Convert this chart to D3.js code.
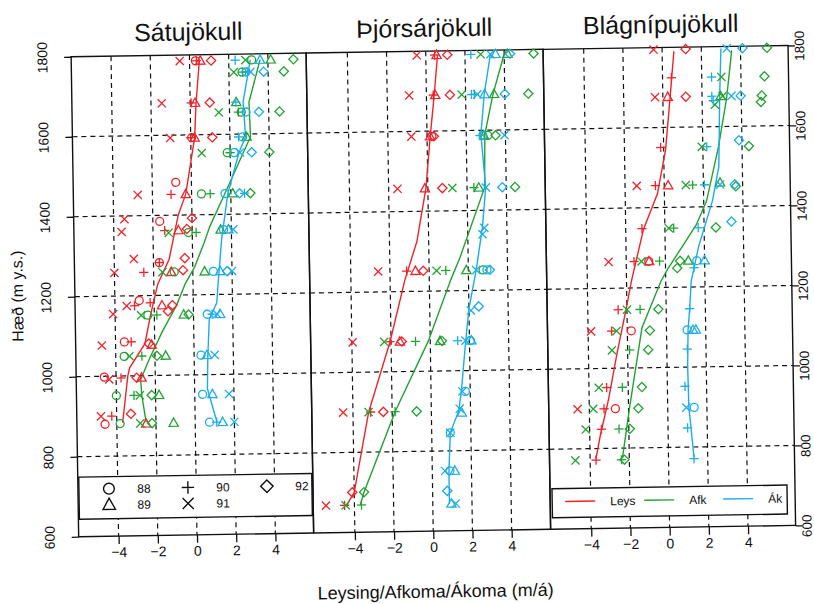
<!DOCTYPE html>
<html>
<head>
<meta charset="utf-8">
<script src="https://cdn.jsdelivr.net/npm/d3@7"></script>
<style>
body { margin: 0; background: #fff; }
svg { display: block; }
text { font-family: "Liberation Sans", Arial, Helvetica, sans-serif; fill: #111; }
</style>
</head>
<body>
<svg id="chart" width="814" height="604"></svg>
<script>
// ---- data: [year, elevation (m), value (m/a)] ----
var satuLeys = [
	[91,1785,-0.5],[88,1785,0.3],[90,1785,0.35],[89,1785,0.55],[92,1785,1.1],
	[91,1680,-1.45],[90,1680,0.05],[89,1680,0.25],[92,1680,1.0],
	[91,1593,-1.05],[90,1593,0.0],[88,1593,0.05],[89,1593,0.2],[92,1593,1.1],
	[88,1482,-0.8],
	[91,1452,-2.75],[90,1452,-1.05],[89,1452,-0.3],
	[91,1392,-3.45],[88,1385,-1.65],[92,1392,0.0],
	[91,1360,-3.6],[90,1362,-1.4],[89,1362,-0.7],[92,1365,-0.27],
	[91,1292,-3.0],[92,1292,-0.4],[88,1282,-1.7],[90,1282,-1.7],
	[91,1258,-4.0],[90,1258,-2.5],[89,1258,-1.1],[92,1262,-0.5],
	[88,1188,-2.76],[90,1182,-2.2],[91,1175,-3.4],[90,1175,-3.0],[89,1175,-1.6],[92,1175,-1.07],[92,1160,-1.3],
	[91,1155,-4.1],
	[88,1085,-3.55],[90,1085,-3.2],[91,1077,-4.7],[92,1080,-2.3],[89,1077,-2.16],
	[88,998,-4.6],[91,992,-4.35],[90,995,-3.75],[92,995,-2.95],[89,995,-2.7],
	[91,900,-4.8],[90,900,-4.25],[88,880,-4.6],[92,905,-3.27],[89,880,-2.5]
];
var satuAfk = [
	[91,1785,2.85],[88,1785,3.17],[89,1785,4.14],[92,1785,5.3],
	[91,1755,2.25],[88,1755,2.67],[90,1755,2.7],[92,1755,4.8],
	[89,1680,2.35],
	[91,1655,1.45],[90,1655,2.45],[88,1655,2.6],[92,1655,4.55],
	[89,1593,2.85],
	[91,1554,0.55],[88,1554,1.85],[90,1554,2.0],[92,1554,4.0],
	[88,1452,0.5],[90,1452,0.95],[89,1452,2.1],[92,1452,3.0],
	[91,1356,-1.2],[88,1356,-0.2],[90,1356,0.2],[89,1362,1.45],
	[91,1258,-1.55],[88,1258,-0.95],[89,1258,0.6],
	[91,1151,-2.67],[88,1151,-2.33],[90,1151,-1.87],[89,1151,-0.5],[92,1151,-0.25],
	[88,1049,-3.57],[91,1049,-3.3],[90,1049,-2.67],[92,1049,-1.9],[89,1049,-1.45],
	[88,951,-4.0],[90,951,-3.1],[91,951,-2.8],[92,951,-2.2],[89,951,-1.82],
	[88,881,-3.83],[91,881,-2.8],[92,881,-2.2],[89,881,-1.1]
];
var satuAk = [
	[90,1785,2.33],[89,1785,3.6],
	[88,1755,2.87],[90,1755,2.95],[91,1755,3.1],[92,1755,3.77],
	[90,1680,2.33],
	[88,1655,2.84],[92,1655,3.5],
	[90,1593,2.44],[88,1593,2.65],
	[88,1554,2.2],[91,1554,2.5],[92,1554,3.1],
	[88,1452,1.7],[92,1452,2.45],[90,1452,2.7],
	[88,1362,1.6],[89,1362,1.85],[91,1362,2.1],
	[88,1258,1.05],[89,1258,1.4],[92,1258,1.75],[91,1258,2.0],
	[88,1151,0.7],[90,1151,0.95],[91,1151,1.2],[89,1151,1.36],
	[88,1049,0.35],[89,1049,0.65],[91,1049,1.05],
	[88,951,0.4],[89,951,0.9],[91,951,1.75],
	[88,881,0.73],[90,881,1.1],[89,881,1.4],[91,881,2.0]
];
var satuLeysLine = [[1785,0.5],[1680,0.3],[1593,0.2],[1452,-0.3],[1400,-0.7],[1290,-1.2],[1228,-1.8],[1150,-2.2],[1080,-2.5],[1020,-3.3],[1000,-3.4],[883,-3.7]];
var satuAfkLine = [[1785,3.6],[1680,3.0],[1593,3.05],[1452,1.7],[1370,0.9],[1330,0.6],[1270,0.1],[1228,-0.4],[1175,-0.85],[1110,-1.6],[1040,-2.3],[990,-2.75],[950,-2.7],[883,-2.5]];
var satuAkLine = [[1785,3.1],[1680,2.7],[1593,2.8],[1554,2.45],[1452,1.85],[1340,1.5],[1228,1.28],[1180,1.2],[1138,0.8],[1048,0.7],[965,0.65],[883,1.1]];

var thjLeys = [
	[91,1790,-0.46],[90,1790,0.45],[89,1790,0.55],[92,1790,1.1],
	[91,1690,-0.88],[90,1690,0.35],[89,1690,0.45],[92,1690,1.2],
	[91,1587,-0.8],[89,1587,0.15],[88,1587,0.25],[92,1587,0.35],
	[91,1457,-1.55],[89,1457,-0.15],[92,1457,0.74],
	[91,1251,-2.6],[90,1251,-1.15],[89,1251,-0.7],[92,1251,-0.3],
	[91,1075,-3.96],[90,1075,-2.05],[89,1075,-1.55],[92,1075,-1.45],
	[91,900,-4.5],[90,900,-3.1],[92,900,-2.45],
	[92,700,-4.1],[91,668,-5.45],[90,668,-4.5]
];
var thjAfk = [
	[91,1790,2.8],[89,1790,4.17],[92,1790,5.5],
	[91,1690,1.8],[90,1690,2.45],[89,1690,3.45],[92,1690,5.2],
	[89,1587,2.9],[88,1587,3.1],[92,1587,3.5],
	[91,1457,1.25],[90,1457,2.35],[89,1457,2.6],[92,1457,4.45],
	[91,1251,0.38],[90,1251,0.85],[89,1251,1.9],[88,1251,2.75],
	[91,1075,-2.35],[90,1075,-0.75],[89,1075,0.5],[92,1075,0.6],
	[91,900,-3.2],[90,900,-1.85],[92,900,-0.75],
	[92,700,-3.5],[91,668,-4.45],[90,668,-3.64]
];
var thjAk = [
	[90,1790,2.3],[91,1790,3.3],[89,1790,3.56],[92,1790,4.3],
	[90,1690,2.3],[91,1690,2.6],[89,1690,2.97],[92,1690,4.0],
	[90,1587,2.7],[88,1587,2.85],[91,1587,3.95],
	[91,1457,2.96],[92,1457,3.8],
	[91,1356,2.85],[91,1340,2.75],
	[91,1251,2.4],[88,1251,2.95],[92,1251,3.1],
	[92,1160,2.5],[91,1150,2.1],
	[90,1075,1.4],[91,1075,1.8],[88,1075,2.05],[89,1075,2.1],
	[91,948,1.6],[88,948,1.75],
	[91,905,1.45],[89,895,1.55],
	[91,845,0.95],[88,845,0.95],
	[91,750,0.65],[88,750,0.9],[89,750,1.15],
	[92,700,0.75],
	[89,668,0.95],[91,668,1.17]
];
var thjLeysLine = [[1790,0.6],[1690,0.4],[1590,0.17],[1457,-0.1],[1325,-0.6],[1228,-1.25],[1075,-2.05],[900,-3.2],[700,-4.0],[668,-4.4]];
var thjAfkLine = [[1790,4.0],[1690,3.4],[1590,2.95],[1457,2.9],[1285,1.6],[1228,1.1],[1075,-0.1],[900,-1.85],[700,-3.5],[668,-3.7]];
var thjAkLine = [[1790,3.3],[1690,2.95],[1590,2.75],[1457,2.95],[1356,2.75],[1251,2.4],[1155,2.0],[1070,1.8],[950,1.55],[900,1.4],[845,0.95],[750,0.85],[668,0.85]];

var blaLeys = [
	[91,1795,-0.44],[92,1795,1.2],
	[90,1724,0.45],
	[91,1676,-0.4],[89,1676,0.25],[92,1676,1.17],
	[90,1550,-0.15],
	[91,1455,-1.4],[90,1455,-0.45],[89,1455,0.2],
	[90,1348,-1.17],
	[91,1266,-2.9],[90,1266,-1.6],[89,1266,-0.83],[88,1266,-0.85],
	[90,1146,-2.45],
	[91,1093,-3.85],[90,1093,-2.8],[88,1093,-1.8],
	[90,952,-3.1],
	[91,899,-4.6],[90,899,-3.25],[88,899,-2.67],
	[90,848,-3.4],
	[90,771,-3.7]
];
var blaAfk = [
	[92,1795,5.35],
	[91,1724,3.0],[92,1724,5.2],
	[89,1676,2.95],[91,1676,3.05],[92,1676,5.05],
	[91,1655,2.65],[92,1660,5.0],
	[91,1550,1.95],[92,1550,4.35],
	[91,1455,1.1],[90,1455,1.45],[89,1460,2.85],[92,1450,3.65],
	[91,1348,0.2],[90,1348,0.45],[92,1348,2.6],
	[91,1266,-1.22],[90,1266,-0.3],[92,1266,0.75],[89,1266,1.17],
	[92,1248,0.6],
	[91,1146,-2.0],[90,1146,-1.33],[92,1146,-0.4],
	[91,1093,-2.55],[92,1093,-0.85],
	[91,1045,-2.8],[90,1045,-1.9],[92,1045,-0.95],
	[91,952,-3.5],[90,952,-2.3],[92,952,-1.3],
	[91,899,-3.8],[92,899,-1.5],
	[91,848,-4.2],[90,848,-2.5],[92,848,-1.95],
	[91,771,-4.75],[90,771,-2.4],[92,771,-2.25]
];
var blaAk = [
	[91,1795,3.3],[92,1795,4.1],
	[90,1724,2.5],
	[90,1676,2.5],[91,1676,3.5],[92,1676,3.97],
	[90,1665,2.57],
	[90,1550,2.2],[92,1565,3.85],
	[90,1455,2.05],[91,1455,2.85],[92,1455,3.6],
	[92,1362,3.4],
	[90,1348,1.7],
	[88,1266,1.6],[89,1266,2.0],
	[90,1248,1.45],
	[90,1146,1.2],
	[88,1093,1.05],[89,1093,1.35],[89,1093,1.5],
	[90,1045,1.05],
	[90,952,0.9],
	[91,899,0.95],[88,899,1.35],
	[90,848,1.0],
	[90,771,1.3]
];
var blaLeysLine = [[1790,0.6],[1675,0.37],[1545,0.1],[1435,-0.35],[1345,-1.1],[1217,-1.75],[1146,-2.05],[1035,-2.55],[925,-3.0],[835,-3.45],[775,-3.7]];
var blaAfkLine = [[1790,3.55],[1670,3.25],[1550,2.8],[1415,2.15],[1355,1.6],[1245,0.1],[1215,-0.25],[1100,-1.25],[1000,-1.6],[900,-1.95],[775,-2.35]];
var blaAkLine = [[1795,3.0],[1676,2.9],[1500,2.8],[1415,2.45],[1300,1.7],[1215,1.3],[1146,1.2],[1093,1.1],[1000,1.05],[900,1.08],[775,1.3]];

var titles = ["Sátujökull", "Þjórsárjökull", "Blágnípujökull"];
var xTicks = [-4, -2, 0, 2, 4];
var hTicks = [600, 800, 1000, 1200, 1400, 1600, 1800];
var hGrid = [800, 1000, 1200, 1400, 1600];
var years = [88, 89, 90, 91, 92];
var seriesNames = ["Leys", "Afk", "Ák"];

// ---- layout ----
var colors = ["#ee2329", "#23a232", "#1badea"];
var panelLeft = [75, 310, 547];
var panelRight = [310, 547, 792];
var panelZero = [193.3, 429.6, 666];
var pxPerUnit = 19.6;

var panels = [
	{ title: titles[0], pts: [satuLeys, satuAfk, satuAk], lines: [satuLeysLine, satuAfkLine, satuAkLine] },
	{ title: titles[1], pts: [thjLeys, thjAfk, thjAk], lines: [thjLeysLine, thjAfkLine, thjAkLine] },
	{ title: titles[2], pts: [blaLeys, blaAfk, blaAk], lines: [blaLeysLine, blaAfkLine, blaAkLine] }
];

var svg = d3.select("#chart");
// the scanned original is slightly tilted
var g = svg.append("g").attr("transform", "rotate(-0.9,407,300)");

var y = d3.scaleLinear().domain([600, 1800]).range([531.5, 51.5]);

function symbolPath(yr, k) {
	var r;
	switch (yr) {
		case 88: r = 4 * k; return "M" + r + ",0A" + r + "," + r + " 0 1,1 " + (-r) + ",0A" + r + "," + r + " 0 1,1 " + r + ",0Z";
		case 89: r = 4.6 * k; return "M0," + (-r * 1.05) + "L" + r + "," + (r * 0.75) + "L" + (-r) + "," + (r * 0.75) + "Z";
		case 90: r = 4.6 * k; return "M" + (-r) + ",0H" + r + "M0," + (-r) + "V" + r;
		case 91: r = 4.1 * k; return "M" + (-r) + "," + (-r) + "L" + r + "," + r + "M" + (-r) + "," + r + "L" + r + "," + (-r);
		default: r = 4.6 * k; return "M0," + (-r) + "L" + r + ",0L0," + r + "L" + (-r) + ",0Z";
	}
}

function fmt(d) { return d < 0 ? "\u2212" + (-d) : "" + d; }

panels.forEach(function(p, i) {
	var x = d3.scaleLinear().domain([0, 1]).range([panelZero[i], panelZero[i] + pxPerUnit]);
	var pg = g.append("g").attr("class", "panel");

	// dashed grid
	pg.selectAll("line.gv").data(xTicks).enter().append("line")
		.attr("class", "gv")
		.attr("x1", x).attr("x2", x)
		.attr("y1", y(1800)).attr("y2", y(600))
		.attr("stroke", "#111").attr("stroke-width", 1.2)
		.attr("stroke-dasharray", "5,4");
	pg.selectAll("line.gh").data(hGrid).enter().append("line")
		.attr("class", "gh")
		.attr("x1", panelLeft[i]).attr("x2", panelRight[i])
		.attr("y1", y).attr("y2", y)
		.attr("stroke", "#111").attr("stroke-width", 1.2)
		.attr("stroke-dasharray", "5,4");

	// frame
	pg.append("rect")
		.attr("x", panelLeft[i]).attr("y", y(1800))
		.attr("width", panelRight[i] - panelLeft[i])
		.attr("height", y(600) - y(1800))
		.attr("fill", "none").attr("stroke", "#111").attr("stroke-width", 1.4);

	// bottom axis
	var ax = pg.append("g")
		.attr("transform", "translate(0," + y(600) + ")")
		.call(d3.axisBottom(x).tickValues(xTicks).tickSize(8).tickPadding(3).tickFormat(fmt));
	ax.select(".domain").remove();
	ax.selectAll("line").attr("stroke", "#111").attr("stroke-width", 1.3);
	ax.selectAll("text").attr("font-size", 14).attr("fill", "#111");

	// series lines
	var line = d3.line()
		.x(function(d) { return x(d[1]); })
		.y(function(d) { return y(d[0]); });
	p.lines.forEach(function(ld, s) {
		pg.append("path").datum(ld)
			.attr("d", line)
			.attr("fill", "none")
			.attr("stroke", colors[s])
			.attr("stroke-width", 1.4);
	});

	// points
	p.pts.forEach(function(pd, s) {
		pg.append("g").selectAll("path").data(pd).enter().append("path")
			.attr("transform", function(d) { return "translate(" + x(d[2]) + "," + y(d[1]) + ")"; })
			.attr("d", function(d) { return symbolPath(d[0], 1); })
			.attr("fill", "none")
			.attr("stroke", colors[s])
			.attr("stroke-width", 1.3);
	});

	// title
	g.append("text")
		.attr("x", (i === 2 ? 665 : (panelLeft[i] + panelRight[i]) / 2))
		.attr("y", 37)
		.attr("text-anchor", "middle")
		.attr("font-size", 25)
		.text(p.title);
});

// left axis
var la = g.append("g").attr("transform", "translate(" + panelLeft[0] + ",0)")
	.call(d3.axisLeft(y).tickValues(hTicks).tickSize(7).tickFormat(d3.format("d")));
la.select(".domain").remove();
la.selectAll("line").attr("stroke", "#111").attr("stroke-width", 1.3);
la.selectAll("text")
	.attr("x", null).attr("dy", null)
	.attr("text-anchor", "middle")
	.attr("transform", "translate(-24,0) rotate(-90)")
	.attr("font-size", 14).attr("fill", "#111");

// right axis
var ra = g.append("g").attr("transform", "translate(" + panelRight[2] + ",0)")
	.call(d3.axisRight(y).tickValues(hTicks).tickSize(7).tickFormat(d3.format("d")));
ra.select(".domain").remove();
ra.selectAll("line").attr("stroke", "#111").attr("stroke-width", 1.3);
ra.selectAll("text")
	.attr("x", null).attr("dy", null)
	.attr("text-anchor", "middle")
	.attr("transform", "translate(16,0) rotate(-90)")
	.attr("font-size", 13.5).attr("fill", "#111");

// axis titles
g.append("text")
	.attr("transform", "translate(23,290) rotate(-90)")
	.attr("text-anchor", "middle")
	.attr("font-size", 16)
	.text("Hæð (m y.s.)");
g.append("text")
	.attr("x", 431).attr("y", 598)
	.attr("text-anchor", "middle")
	.attr("font-size", 18)
	.text("Leysing/Afkoma/Ákoma (m/á)");

// year legend (panel 1)
var lg1 = g.append("g");
lg1.append("rect")
	.attr("x", 76).attr("y", 472).attr("width", 233).attr("height", 42)
	.attr("fill", "#fff").attr("stroke", "#111").attr("stroke-width", 1.4);
var legPos = [[106, 484], [106, 500], [185, 484], [185, 500], [264, 484]];
years.forEach(function(yr, k) {
	lg1.append("path")
		.attr("transform", "translate(" + legPos[k][0] + "," + legPos[k][1] + ")")
		.attr("d", symbolPath(yr, 1.35))
		.attr("fill", "none").attr("stroke", "#111").attr("stroke-width", 1.4);
	lg1.append("text")
		.attr("x", legPos[k][0] + 35).attr("y", legPos[k][1] + 4.5)
		.attr("text-anchor", "middle")
		.attr("font-size", 12)
		.text(yr);
});

// series legend (panel 3)
var lg3 = g.append("g");
lg3.append("rect")
	.attr("x", 549).attr("y", 491).attr("width", 235).attr("height", 29)
	.attr("fill", "#fff").attr("stroke", "#111").attr("stroke-width", 1.4);
var legX = [562, 641, 720];
seriesNames.forEach(function(nm, s) {
	lg3.append("line")
		.attr("x1", legX[s]).attr("x2", legX[s] + 30)
		.attr("y1", 504).attr("y2", 504)
		.attr("stroke", colors[s]).attr("stroke-width", 1.4);
	lg3.append("text")
		.attr("x", legX[s] + 45).attr("y", 508.5)
		.attr("font-size", 12)
		.text(nm);
});
</script>
</body>
</html>
